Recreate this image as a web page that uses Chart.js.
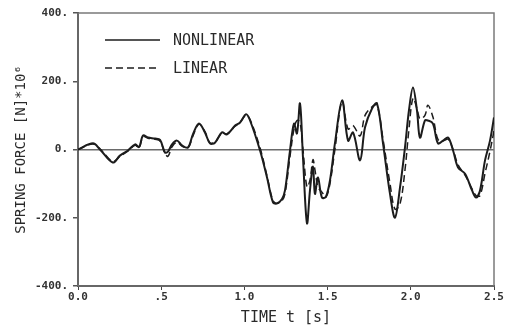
<!DOCTYPE html>
<html>
<head>
<meta charset="utf-8">
<script src="https://cdn.jsdelivr.net/npm/chart.js@4/dist/chart.umd.min.js"></script>
<style>
    html, body { margin: 0; padding: 0; background: #fff; }
    #wrap { width: 513px; height: 330px; }
</style>
</head>
<body>
<div id="wrap"><canvas id="springChart" width="513" height="330"></canvas></div>
<script>
// Spring force time history, nonlinear vs linear model
const timeS = [0.000, 0.090, 0.132, 0.209, 0.252, 0.300, 0.343, 0.367, 0.391, 0.421,
    0.463, 0.493, 0.523, 0.541, 0.565, 0.595, 0.625, 0.661, 0.691, 0.727,
    0.763, 0.793, 0.823, 0.865, 0.895, 0.944, 0.974, 1.010, 1.034, 1.094,
    1.136, 1.172, 1.196, 1.226, 1.244, 1.274, 1.298, 1.316, 1.334, 1.352,
    1.376, 1.394, 1.412, 1.424, 1.442, 1.466, 1.490, 1.514, 1.544, 1.587,
    1.623, 1.653, 1.695, 1.725, 1.767, 1.797, 1.833, 1.875, 1.905, 1.935,
    1.965, 1.989, 2.013, 2.037, 2.055, 2.085, 2.103, 2.133, 2.163, 2.194,
    2.224, 2.254, 2.284, 2.326, 2.368, 2.392, 2.416, 2.446, 2.476, 2.500];

const nonlinearForce = [0, 18, 0, -38, -18, -3, 15, 7, 41, 35,
    32, 28, -9, -6, 15, 26, 12, 6, 45, 76,
    50, 18, 20, 50, 44, 70, 79, 103, 85, -3,
    -82, -155, -158, -145, -120, -3, 76, 47, 135, -23,
    -216, -120, -50, -130, -82, -141, -138, -91, 18, 144,
    26, 50, -32, 65, 120, 135, 18, -130, -200, -112,
    6, 115, 182, 115, 35, 85, 85, 76, 18, 26,
    35, -3, -53, -71, -120, -141, -120, -32, 26, 94];

const linearForce = [0, 16, 2, -35, -20, -5, 12, 5, 38, 33,
    30, 25, -12, -20, 8, 22, 10, 5, 40, 74,
    52, 20, 22, 48, 46, 68, 80, 100, 88, 5,
    -78, -150, -158, -150, -130, -20, 60, 85, 80, 0,
    -110, -90, -30, -60, -110, -125, -140, -100, 0, 140,
    60, 70, 40, 100, 125, 130, 30, -100, -175, -160,
    -60, 60, 150, 120, 90, 100, 130, 95, 30, 25,
    30, 0, -45, -75, -115, -135, -135, -70, -5, 55];

const xTickLabels = ['0.0', '.5', '1.0', '1.5', '2.0', '2.5'];
const yTickLabels = ['-400.', '-200.', '0.', '200.', '400.'];
const seriesNames = ['NONLINEAR', 'LINEAR'];

const monoFont = '"DejaVu Sans Mono", "Liberation Mono", monospace';
const inkColor = '#1c1c1c';

function toPoints(xs, ys) {
    return xs.map((x, i) => ({ x: x, y: ys[i] }));
}

// Frame: gray box round the plot area (left/bottom axes are drawn darker on top)
const framePlugin = {
    id: 'frame',
    beforeDatasetsDraw(chart) {
        const { ctx, chartArea: a } = chart;
        ctx.save();
        ctx.strokeStyle = '#7a7a7a';
        ctx.lineWidth = 1.5;
        ctx.strokeRect(a.left, a.top, a.right - a.left, a.bottom - a.top);
        ctx.restore();
    }
};

// Legend drawn inside the plot, top-left, like the original plotter output
const insideLegendPlugin = {
    id: 'insideLegend',
    afterDraw(chart) {
        const { ctx, chartArea: a } = chart;
        const x0 = a.left + 27, x1 = a.left + 82, tx = a.left + 95;
        const rows = [a.top + 27, a.top + 55];
        ctx.save();
        ctx.font = '15px ' + monoFont;
        ctx.textBaseline = 'middle';
        ctx.fillStyle = '#2a2a2a';
        chart.data.datasets.forEach((ds, i) => {
            ctx.strokeStyle = inkColor;
            ctx.lineWidth = 1.6;
            ctx.setLineDash(ds.borderDash || []);
            ctx.beginPath();
            ctx.moveTo(x0, rows[i]);
            ctx.lineTo(x1, rows[i]);
            ctx.stroke();
            ctx.setLineDash([]);
            ctx.fillText(ds.label, tx, rows[i] + 1);
        });
        ctx.restore();
    }
};

const ctx = document.getElementById('springChart').getContext('2d');
new Chart(ctx, {
    type: 'line',
    data: {
        datasets: [{
            label: seriesNames[0],
            data: toPoints(timeS, nonlinearForce),
            borderColor: inkColor,
            borderWidth: 2,
            pointRadius: 0,
            tension: 0.35,
            fill: false
        }, {
            label: seriesNames[1],
            data: toPoints(timeS, linearForce),
            borderColor: inkColor,
            borderWidth: 1.5,
            borderDash: [7, 4],
            pointRadius: 0,
            tension: 0.35,
            fill: false
        }]
    },
    options: {
        responsive: false,
        animation: false,
        layout: { padding: { top: 13, right: 19, left: 0, bottom: 0 } },
        plugins: {
            legend: { display: false },
            tooltip: { enabled: false }
        },
        scales: {
            x: {
                type: 'linear',
                min: 0,
                max: 2.5,
                afterFit(scale) { scale.height = 44; },
                afterBuildTicks(scale) {
                    scale.ticks = xTickLabels.map((_, i) => ({ value: i * 0.5 }));
                },
                ticks: {
                    callback: (v, i) => xTickLabels[i],
                    font: { family: monoFont, size: 11, weight: 'bold' },
                    color: '#333',
                    padding: 1,
                    maxRotation: 0
                },
                grid: {
                    drawOnChartArea: false,
                    tickLength: 4,
                    tickColor: '#444'
                },
                border: { color: '#333', width: 2 },
                title: {
                    display: true,
                    text: 'TIME t [s]',
                    font: { family: monoFont, size: 15 },
                    color: '#2a2a2a',
                    padding: { top: 0, bottom: 3 }
                }
            },
            y: {
                min: -400,
                max: 400,
                afterFit(scale) { scale.width = 78; },
                afterBuildTicks(scale) {
                    scale.ticks = yTickLabels.map((_, i) => ({ value: -400 + i * 200 }));
                },
                ticks: {
                    callback: (v, i) => yTickLabels[i],
                    font: { family: monoFont, size: 11, weight: 'bold' },
                    color: '#333',
                    padding: 5
                },
                grid: {
                    color: c => (c.tick && c.tick.value === 0) ? '#6a6a6a' : 'rgba(0,0,0,0)',
                    lineWidth: 1.5,
                    tickLength: 5,
                    tickColor: '#555'
                },
                border: { color: '#333', width: 2 },
                title: {
                    display: true,
                    text: 'SPRING FORCE [N]*10\u2076',
                    font: { family: monoFont, size: 14 },
                    color: '#2a2a2a',
                    padding: { top: 13, bottom: 0 }
                }
            }
        }
    },
    plugins: [framePlugin, insideLegendPlugin]
});
</script>
</body>
</html>
